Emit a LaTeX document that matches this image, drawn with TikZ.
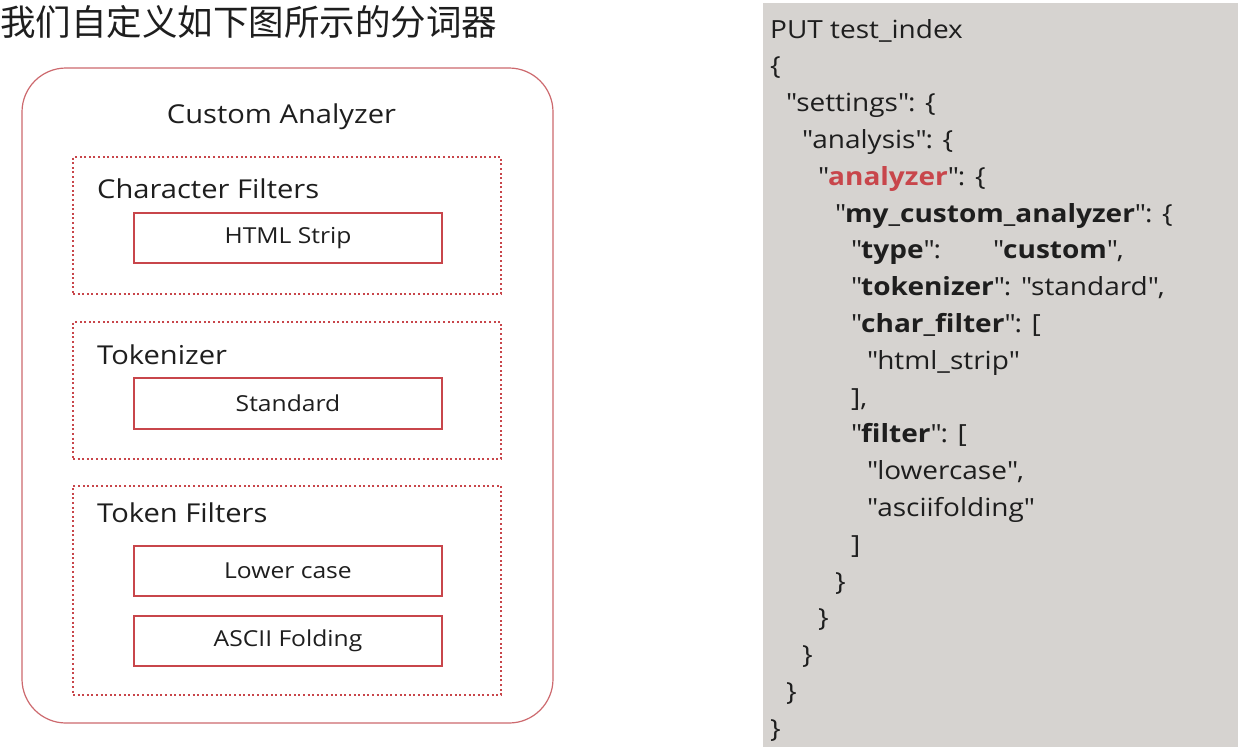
\documentclass[tikz,border=0pt]{standalone}
\usepackage{fontspec}
\setmainfont{Open Sans}[FakeStretch=1.12]
\newfontfamily\cjk{Noto Sans CJK SC}
\newcommand\qm{\textquotedbl}
\definecolor{boxred}{RGB}{200,70,75}
\definecolor{outred}{RGB}{205,105,110}
\definecolor{codebg}{RGB}{214,211,208}
\definecolor{kwred}{RGB}{200,70,75}
\definecolor{ink}{RGB}{30,30,30}
\tikzset{
  outerbox/.style={draw=outred, line width=1.2pt, rounded corners=44pt, minimum width=531pt, minimum height=655pt, inner sep=0pt},
  groupbox/.style={draw=boxred, dash pattern={on 2pt off 2.6pt}, line width=1.3pt, minimum width=428pt, inner sep=0pt},
  itembox/.style={draw=boxred, line width=1.3pt, minimum width=308pt, minimum height=50pt, inner sep=0pt, text=ink, font=\fontsize{22}{26}\selectfont},
  heading/.style={anchor=base west, inner sep=0pt, text=ink, font=\fontsize{26}{30}\selectfont},
  codeline/.style={anchor=base west, inner sep=0pt, text=ink, font=\fontsize{25}{30}\selectfont},
}
\begin{document}
\begin{tikzpicture}[x=1pt,y=-1pt]
\useasboundingbox (0,0) rectangle (1238,747);
\fill[white] (0,0) rectangle (1238,747);
% title
\node[anchor=west, inner sep=0pt, text=ink, font=\cjk\fontsize{35.5}{40}\selectfont] (title) at (0,22) {我们自定义如下图所示的分词器};
% left diagram
\node[outerbox] (outer) at (287.5,395.5) {};
\node[heading, anchor=base] (ca) at (281.5,123) {Custom Analyzer};
\node[groupbox, minimum height=137pt] (g1) at (287,225.5) {};
\node[heading] (h1) at (97,198) {Character Filters};
\node[itembox] (b1) at (288,238) {HTML Strip};
\node[groupbox, minimum height=137pt] (g2) at (287,390.5) {};
\node[heading] (h2) at (97,364) {Tokenizer};
\node[itembox, minimum height=51pt] (b2) at (288,403.5) {Standard};
\node[groupbox, minimum height=209pt] (g3) at (287,590.5) {};
\node[heading] (h3) at (97,522) {Token Filters};
\node[itembox] (b3) at (288,571) {Lower case};
\node[itembox] (b4) at (288,641) {ASCII Folding};
% code panel
\fill[codebg] (763,3) rectangle (1238,747);
\def\lh{36.8}
\node[codeline] (l0) at (770,38) {PUT test\_index};
\node[codeline] (l1) at (770,38+1*\lh) {\{};
\node[codeline] (l2) at (786,38+2*\lh) {\qm settings\qm: \{};
\node[codeline] (l3) at (802,38+3*\lh) {\qm analysis\qm: \{};
\node[codeline] (l4) at (818,38+4*\lh) {\qm\textcolor{kwred}{\bfseries analyzer}\qm: \{};
\node[codeline] (l5) at (835,38+5*\lh) {\qm\textbf{my\_custom\_analyzer}\qm: \{};
\node[codeline] (l6) at (851,38+6*\lh) {\qm\textbf{type}\qm:};
\node[codeline] (l6b) at (993,38+6*\lh) {\qm\textbf{custom}\qm,};
\node[codeline] (l7) at (851,38+7*\lh) {\qm\textbf{tokenizer}\qm: \qm standard\qm,};
\node[codeline] (l8) at (851,38+8*\lh) {\qm\textbf{char\_filter}\qm: [};
\node[codeline] (l9) at (867,38+9*\lh) {\qm html\_strip\qm};
\node[codeline] (l10) at (851,38+10*\lh) {],};
\node[codeline] (l11) at (851,38+11*\lh) {\qm\textbf{filter}\qm: [};
\node[codeline] (l12) at (867,38+12*\lh) {\qm lowercase\qm,};
\node[codeline] (l13) at (867,38+13*\lh) {\qm asciifolding\qm};
\node[codeline] (l14) at (851,38+14*\lh) {]};
\node[codeline] (l15) at (835,38+15*\lh) {\}};
\node[codeline] (l16) at (818,38+16*\lh) {\}};
\node[codeline] (l17) at (802,38+17*\lh) {\}};
\node[codeline] (l18) at (786,38+18*\lh) {\}};
\node[codeline] (l19) at (770,38+19*\lh) {\}};
\end{tikzpicture}
\end{document}
